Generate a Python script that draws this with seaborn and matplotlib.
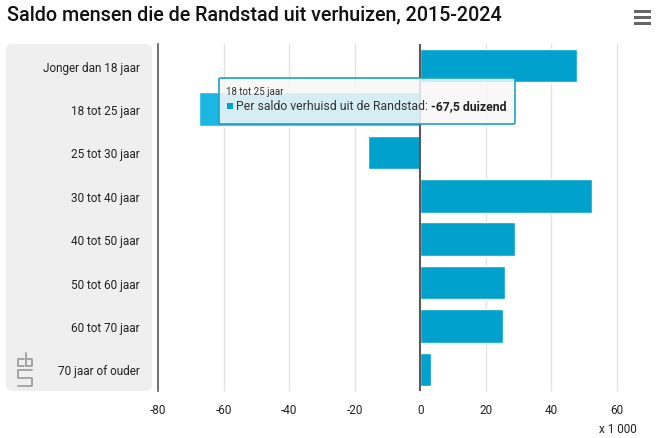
import matplotlib
matplotlib.use('Agg')
import matplotlib.pyplot as plt
import seaborn as sns
import pandas as pd
from matplotlib.patches import FancyBboxPatch, Rectangle

categories = ['Jonger dan 18 jaar', '18 tot 25 jaar', '25 tot 30 jaar', '30 tot 40 jaar',
              '40 tot 50 jaar', '50 tot 60 jaar', '60 tot 70 jaar', '70 jaar of ouder']
saldo = [47.7, -67.5, -16.0, 52.4, 29.0, 25.7, 25.1, 3.2]
x_ticks = [-80, -60, -40, -20, 0, 20, 40, 60]
highlight = '18 tot 25 jaar'

df = pd.DataFrame({'leeftijd': categories, 'saldo': saldo})

sns.set_theme(style='white')
plt.rcParams['font.family'] = ['Roboto', 'DejaVu Sans']

W, H = 657, 439
fig = plt.figure(figsize=(W / 100, H / 100), dpi=100)

# grijs label-paneel links
panel = FancyBboxPatch((6 / W, (H - 392) / H), (152 - 6) / W, (392 - 45) / H,
                       boxstyle='round,pad=0,rounding_size=0.012',
                       transform=fig.transFigure, facecolor='#efefef', edgecolor='none', zorder=-5)
fig.patches.append(panel)

ax = fig.add_axes([158 / W, (H - 392) / H, (617 - 158) / W, (392 - 45) / H])
ax.patch.set_alpha(0)

kleur = {c: ('#1cb6e2' if c == highlight else '#00a2cd') for c in categories}
sns.barplot(data=df, y='leeftijd', x='saldo', hue='leeftijd', palette=kleur,
            orient='h', width=0.77, legend=False, saturation=1, ax=ax, zorder=3)

ax.set_xlim(-80, 60)
ax.set_ylim(7.5, -0.5)
ax.set_xticks(x_ticks)
ax.set_xticklabels([str(t) for t in x_ticks], fontsize=8.5, color='#222222')
ax.tick_params(axis='y', labelsize=8.5, labelcolor='#222222', pad=13, length=0)
ax.tick_params(axis='x', pad=9, length=0)
ax.set_xlabel('')
ax.set_ylabel('')
for t in x_ticks:
    if t not in (-80, 0):
        ax.axvline(t, color='#e3e3e3', lw=1, zorder=1, clip_on=False)
ax.axvline(0, color='#5a5a5a', lw=1.5, zorder=4)
for s in ['top', 'right', 'bottom']:
    ax.spines[s].set_visible(False)
ax.spines['left'].set_color('#5a5a5a')
ax.spines['left'].set_linewidth(1.2)

fig.text(637 / W, (H - 430) / H, 'x 1 000', ha='right', va='center', fontsize=8.5, color='#222222')

# titel
fig.text(7 / W, (H - 15) / H, 'Saldo mensen die de Randstad uit verhuizen, 2015-2024',
         ha='left', va='center', fontsize=14.2, fontweight='medium', color='#111111')

# menu-icoon
for yy in (12, 18, 24):
    fig.patches.append(Rectangle((634 / W, (H - yy - 2) / H), 17 / W, 3 / H,
                                 transform=fig.transFigure, facecolor='#666666', edgecolor='none'))

# cbs-logo (vereenvoudigd)
logo = [
    [(24, 360), (18, 360), (18, 367), (24, 367)],
    [(26, 354), (26, 367), (32, 367), (32, 360), (27, 360)],
    [(32, 371), (18, 371), (18, 379), (32, 379), (32, 387), (18, 387)],
]
for path in logo:
    fig.lines.append(plt.Line2D([p[0] / W for p in path], [(H - p[1]) / H for p in path],
                                transform=fig.transFigure, color='#a0a0a0', lw=1.3))

# tooltip
x0, y0, x1, y1 = 219, 79, 515, 125
tip = FancyBboxPatch((x0 / W, (H - y1) / H), (x1 - x0) / W, (y1 - y0) / H,
                     boxstyle='round,pad=0,rounding_size=0.003', transform=fig.transFigure,
                     facecolor=(0.97, 0.97, 0.97, 0.85), edgecolor='#1aa3c0', lw=1.2, zorder=10)
fig.patches.append(tip)
fig.text(226 / W, (H - 92) / H, '18 tot 25 jaar', fontsize=7, color='#333333', va='center', zorder=12)
fig.patches.append(Rectangle((227 / W, (H - 110) / H), 6 / W, 6 / H, transform=fig.transFigure,
                             facecolor='#00a2cd', edgecolor='none', zorder=11))
t1 = fig.text(236 / W, (H - 107) / H, 'Per saldo verhuisd uit de Randstad: ', fontsize=8.8,
              color='#333333', va='center', zorder=12)
fig.canvas.draw()
bb = t1.get_window_extent()
fig.text(bb.x1 / W, (H - 107) / H, '-67,5 duizend', fontsize=8.8, fontweight='bold',
         color='#222222', va='center', zorder=12)

fig.savefig('out.png', dpi=100)
